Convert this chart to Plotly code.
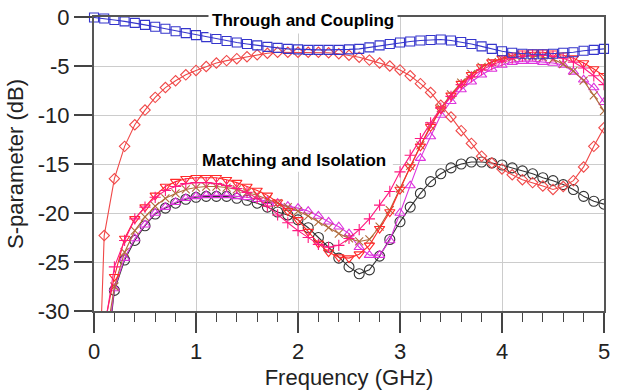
import plotly.graph_objects as go

freq = [round(0.1 * i, 1) for i in range(51)]
freq_m = freq[1:]

# Through (blue squares)
through = [-0.05, -0.15, -0.3, -0.45, -0.6, -0.8, -1.0, -1.2, -1.45, -1.65,
           -1.85, -2.05, -2.25, -2.45, -2.6, -2.75, -2.9, -3.05, -3.15, -3.25,
           -3.3, -3.35, -3.35, -3.35, -3.35, -3.3, -3.25, -3.1, -2.9, -2.75,
           -2.6, -2.5, -2.4, -2.35, -2.3, -2.4, -2.55, -2.75, -3.0, -3.25,
           -3.5, -3.65, -3.75, -3.8, -3.8, -3.75, -3.65, -3.6, -3.45, -3.35,
           -3.25]
# Coupling (red diamonds)
coupling = [-53, -22.3, -16.5, -13.2, -11.0, -9.5, -8.2, -7.2, -6.5, -5.9,
            -5.45, -5.05, -4.7, -4.45, -4.25, -4.05, -3.85, -3.7, -3.6, -3.6,
            -3.6, -3.6, -3.6, -3.65, -3.75, -3.9, -4.1, -4.4, -4.7, -5.0,
            -5.4, -6.0, -6.8, -7.7, -9.0, -10.2, -11.6, -12.9, -14.2, -14.9,
            -15.5, -16.1, -16.6, -16.9, -17.25, -17.6, -17.3, -16.7, -15.3, -13.2,
            -11.3]
# Matching / isolation curves (0.1 .. 5.0 GHz)
s_tri_down = [-31.5, -26.5, -22.6, -20.6, -19.4, -18.2, -17.3, -16.8, -16.5, -16.4,
              -16.4, -16.4, -16.6, -16.9, -17.3, -17.7, -18.2, -18.9, -19.8, -20.7,
              -21.9, -23.1, -24.0, -24.5, -24.6, -24.2, -23.3, -21.6, -19.9, -17.6,
              -15.3, -13.2, -11.2, -9.4, -8.0, -6.8, -5.9, -5.1, -4.6, -4.2,
              -3.9, -3.7, -3.6, -3.6, -3.7, -3.9, -4.2, -4.7, -5.3, -6.0]
s_x = [-34, -27.5, -24.0, -21.8, -20.4, -19.3, -18.5, -18.0, -17.6, -17.4,
       -17.3, -17.3, -17.4, -17.6, -17.9, -18.2, -18.6, -19.0, -19.4, -19.8,
       -20.3, -20.9, -21.5, -22.1, -22.6, -22.9, -22.7, -21.4, -19.7, -17.5,
       -15.2, -13.1, -11.1, -9.3, -7.9, -6.7, -5.8, -5.1, -4.6, -4.3,
       -4.1, -4.0, -4.0, -4.1, -4.3, -4.8, -5.5, -6.5, -8.0, -9.6]
s_tri_up = [-36, -27.7, -24.6, -22.6, -21.2, -20.0, -19.4, -18.9, -18.5, -18.3,
            -18.2, -18.2, -18.2, -18.3, -18.4, -18.6, -18.8, -19.0, -19.3, -19.5,
            -19.8, -20.3, -20.9, -21.4, -22.1, -23.5, -24.3, -24.3, -22.8, -20.0,
            -17.2, -14.4, -12.2, -10.0, -8.6, -7.4, -6.6, -5.9, -5.3, -4.9,
            -4.6, -4.5, -4.5, -4.6, -4.7, -4.9, -5.6, -6.4, -7.2, -8.7]
s_circle = [-37, -27.9, -24.8, -22.8, -21.3, -20.1, -19.5, -19.0, -18.6, -18.4,
            -18.3, -18.3, -18.3, -18.5, -18.7, -19.0, -19.4, -19.9, -20.2, -20.7,
            -21.5, -22.5, -23.5, -24.6, -25.5, -26.2, -25.8, -24.4, -22.7, -20.9,
            -19.4, -18.0, -16.8, -16.0, -15.4, -15.0, -14.8, -14.8, -14.9, -15.1,
            -15.4, -15.7, -16.0, -16.4, -16.7, -17.1, -17.6, -18.3, -18.8, -19.1]
s_plus = [-32, -25.5, -22.8, -20.6, -19.4, -18.4, -17.7, -17.3, -17.0, -16.9,
          -16.9, -17.0, -17.2, -17.5, -17.9, -18.5, -19.3, -20.2, -21.0, -21.8,
          -22.5, -23.2, -23.5, -23.3, -22.6, -21.7, -20.6, -19.2, -17.8, -15.8,
          -14.1, -12.4, -10.8, -9.3, -8.1, -6.9, -6.1, -5.4, -4.9, -4.5,
          -4.2, -4.0, -3.9, -3.9, -4.0, -4.2, -4.6, -5.2, -6.0, -6.9]

y_ticks = [0, -5, -10, -15, -20, -25, -30]
y_ticktext = ["0", "-5", "-10", "-15", "-20", "-25", "-30"]
x_ticks = [0, 1, 2, 3, 4, 5]

FONT = "Liberation Sans, Arial, sans-serif"

fig = go.Figure()

def add(x, y, color, symbol, size, clip=True):
    fig.add_trace(go.Scatter(
        x=x, y=y, mode="lines+markers", cliponaxis=clip,
        line=dict(color=color, width=1.1),
        marker=dict(symbol=symbol, size=size, color=color,
                    line=dict(color=color, width=1.1)),
        showlegend=False))

add(freq_m, s_circle, "#333333", "circle-open", 10)
add(freq_m, s_tri_up, "#dd33dd", "triangle-up-open", 9)
add(freq_m, s_x, "#b06a3a", "x-thin-open", 8)
add(freq_m, s_tri_down, "#ff2a2a", "triangle-down-open", 9)
add(freq_m, s_plus, "#ff1a80", "cross-thin-open", 8)
add(freq, coupling, "#f04848", "diamond-open", 8)
add(freq, through, "#3535cc", "square-open", 9, clip=False)

fig.add_shape(type="rect", x0=1.02, x1=2.93, y0=-14.2, y1=-15.8,
              fillcolor="white", line=dict(width=0), layer="between")

fig.add_annotation(x=2.05, y=-0.35, xref="x", yref="y", text="<b>Through and Coupling</b>",
                   showarrow=False, font=dict(family=FONT, size=17, color="#000"),
                   bgcolor="white", borderpad=3)
fig.add_annotation(x=1.96, y=-14.6, xref="x", yref="y", text="<b>Matching and Isolation</b>",
                   showarrow=False, font=dict(family=FONT, size=17, color="#000"))

fig.update_layout(
    width=619, height=392,
    margin=dict(l=94, r=15, t=17, b=81, autoexpand=False),
    paper_bgcolor="white", plot_bgcolor="white",
    font=dict(family=FONT, color="#222"),
)
fig.update_xaxes(
    range=[0, 5], tickvals=x_ticks, ticks="outside", ticklen=20, tickwidth=1.5,
    tickcolor="#444", showline=True, linecolor="#555", linewidth=2, mirror=True,
    showgrid=True, gridcolor="#cccccc", gridwidth=1, zeroline=False, automargin=False,
    tickfont=dict(family=FONT, size=22, color="#222"),
    minor=dict(dtick=0.2, ticks="outside", ticklen=9, tickwidth=1.2, tickcolor="#444", showgrid=False),
    title=dict(text="Frequency (GHz)", font=dict(family=FONT, size=22, color="#222"), standoff=6),
)
fig.update_yaxes(
    range=[-30, 0], tickvals=y_ticks, ticktext=y_ticktext, ticks="outside", ticklen=18,
    tickwidth=1.5, tickcolor="#444", showline=True, linecolor="#555", linewidth=2, mirror=True,
    showgrid=True, gridcolor="#cccccc", gridwidth=1, zeroline=False, automargin=False,
    tickfont=dict(family=FONT, size=22, color="#222"),
    title=dict(text="S-parameter (dB)", font=dict(family=FONT, size=22, color="#222"), standoff=8),
)

fig.write_html("out.html")
